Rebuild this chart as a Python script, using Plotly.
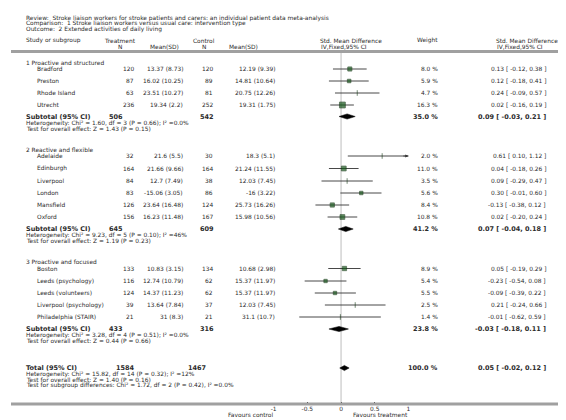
import plotly.graph_objects as go

W, H = 566, 420
FONT = "DejaVu Sans"
TEXT = "#2a2a2a"
FS = 5.9      # normal text size
FSB = 6.5     # bold text size

# ---------------- data ----------------
review = "Review:  Stroke liaison workers for stroke patients and carers: an individual patient data meta-analysis"
comparison = "Comparison:  1 Stroke liaison workers versus usual care: intervention type"
outcome = "Outcome:  2 Extended activities of daily living"

group_names = ["1 Proactive and structured", "2 Reactive and flexible", "3 Proactive and focused"]

g1_studies = ["Bradford", "Preston", "Rhode Island", "Utrecht"]
g1_t_n = [120, 87, 63, 236]
g1_t_mean = [13.37, 16.02, 23.51, 19.34]
g1_t_sd = [8.73, 10.25, 10.27, 2.2]
g1_c_n = [120, 89, 81, 252]
g1_c_mean = [12.19, 14.81, 20.75, 19.31]
g1_c_sd = [9.39, 10.64, 12.26, 1.75]
g1_weight = [8.0, 5.9, 4.7, 16.3]
g1_smd = [0.13, 0.12, 0.24, 0.02]
g1_lo = [-0.12, -0.18, -0.09, -0.16]
g1_hi = [0.38, 0.41, 0.57, 0.19]

g2_studies = ["Adelaide", "Edinburgh", "Liverpool", "London", "Mansfield", "Oxford"]
g2_t_n = [32, 164, 84, 83, 126, 156]
g2_t_mean = [21.6, 21.66, 12.7, -15.06, 23.64, 16.23]
g2_t_sd = [5.5, 9.66, 7.49, 3.05, 16.48, 11.48]
g2_c_n = [30, 164, 38, 86, 124, 167]
g2_c_mean = [18.3, 21.24, 12.03, -16, 25.73, 15.98]
g2_c_sd = [5.1, 11.55, 7.45, 3.22, 16.26, 10.56]
g2_weight = [2.0, 11.0, 3.5, 5.6, 8.4, 10.8]
g2_smd = [0.61, 0.04, 0.09, 0.30, -0.13, 0.02]
g2_lo = [0.10, -0.18, -0.29, -0.01, -0.38, -0.20]
g2_hi = [1.12, 0.26, 0.47, 0.60, 0.12, 0.24]

g3_studies = ["Boston", "Leeds (psychology)", "Leeds (volunteers)", "Liverpool (psychology)", "Philadelphia (STAIR)"]
g3_t_n = [133, 116, 124, 39, 21]
g3_t_mean = [10.83, 12.74, 14.37, 13.64, 31]
g3_t_sd = [3.15, 10.79, 11.23, 7.84, 8.3]
g3_c_n = [134, 62, 62, 37, 21]
g3_c_mean = [10.68, 15.37, 15.37, 12.03, 31.1]
g3_c_sd = [2.98, 11.97, 11.97, 7.45, 10.7]
g3_weight = [8.9, 5.4, 5.5, 2.5, 1.4]
g3_smd = [0.05, -0.23, -0.09, 0.21, -0.01]
g3_lo = [-0.19, -0.54, -0.39, -0.24, -0.62]
g3_hi = [0.29, 0.08, 0.22, 0.66, 0.59]

sub_t_n = [506, 645, 433]
sub_c_n = [542, 609, 316]
sub_weight = [35.0, 41.2, 23.8]
sub_smd = [0.09, 0.07, -0.03]
sub_lo = [-0.03, -0.04, -0.18]
sub_hi = [0.21, 0.18, 0.11]
sub_chi2 = ["1.60", "9.23", "3.28"]
sub_df = [3, 5, 4]
sub_p = ["0.66", "0.10", "0.51"]
sub_i2 = ["0.0%", "46%", "0.0%"]
sub_z = ["1.43", "1.19", "0.44"]
sub_zp = ["0.15", "0.23", "0.66"]

total_t_n = 1584
total_c_n = 1467
total_weight = 100.0
total_smd = 0.05
total_lo = -0.02
total_hi = 0.12
total_het = "Heterogeneity: Chi\u00b2 = 15.82, df = 14 (P = 0.32); I\u00b2 =12%"
total_test = "Test for overall effect: Z = 1.40 (P = 0.16)"
total_subgroup = "Test for subgroup differences: Chi\u00b2 = 1.72, df = 2 (P = 0.42), I\u00b2 =0.0%"

axis_ticks = [-1, -0.5, 0, 0.5, 1]
axis_ticktext = ["-1", "-0.5", "0", "0.5", "1"]
favours_left = "Favours control"
favours_right = "Favours treatment"

# ---------------- layout constants (pixel rows / columns) ----------------
X_LEFT = 13
X_STUDY = 24.5
X_TN_R = 126
X_TM_R = 176
X_CN_R = 206
X_CM_R = 268
X_W_R = 433
X_CI_R = 542
X_SUB_TN_R = 115
X_SUB_CN_R = 207
X_TOT_TN_R = 127
X_TOT_CN_R = 199

group_layout = [
    dict(header=54.5, rows=[61, 73, 85, 97], sub=108.5, het=115, test=121),
    dict(header=142, rows=[148, 160.5, 173, 185, 197, 209], sub=221, het=227.5, test=233),
    dict(header=254, rows=[260.5, 273, 285, 297, 309], sub=321, het=327.5, test=333),
]
Y_TOTAL, Y_TOT_HET, Y_TOT_TEST, Y_TOT_SUB = 360, 366.5, 372, 377.5
Y_AXIS = 396

groups = [
    (g1_studies, g1_t_n, g1_t_mean, g1_t_sd, g1_c_n, g1_c_mean, g1_c_sd, g1_weight, g1_smd, g1_lo, g1_hi),
    (g2_studies, g2_t_n, g2_t_mean, g2_t_sd, g2_c_n, g2_c_mean, g2_c_sd, g2_weight, g2_smd, g2_lo, g2_hi),
    (g3_studies, g3_t_n, g3_t_mean, g3_t_sd, g3_c_n, g3_c_mean, g3_c_sd, g3_weight, g3_smd, g3_lo, g3_hi),
]

ann = []


def txt(x, y, s, anchor="left", bold=False, size=None, color=TEXT):
    ann.append(dict(
        x=x / W, y=y, xref="paper", yref="y", text=("<b>%s</b>" % s) if bold else s,
        showarrow=False, xanchor=anchor, yanchor="middle",
        font=dict(family=FONT, size=size or (FSB if bold else FS), color=color),
    ))


def ms(m, s):
    return "%g (%g)" % (m, s)


def ci(e, lo, hi):
    return "%.2f [ %.2f, %.2f ]" % (e, lo, hi)


# title block
txt(X_LEFT, 10, review)
txt(X_LEFT, 15.5, comparison)
txt(X_LEFT, 21, outcome)

# headers
H1, H2 = 32.5, 38.5
txt(X_LEFT, H1, "Study or subgroup")
txt(92, H1, "Treatment")
txt(110, H2, "N", anchor="center")
txt(138, H2, "Mean(SD)")
txt(182, H1, "Control")
txt(195, H2, "N", anchor="center")
txt(218, H2, "Mean(SD)")
txt(310, H1, "Std. Mean Difference")
txt(311, H2, "IV,Fixed,95% CI")
txt(408, H1, "Weight")
txt(487, H1, "Std. Mean Difference")
txt(488, H2, "IV,Fixed,95% CI")

ci_x, ci_y = [], []
sq_x, sq_y, sq_size, sq_sym = [], [], [], []
dia_x, dia_y = [], []
DH = 2.6


def add_diamond(e, lo, hi, y):
    dia_x.extend([lo, e, hi, e, lo, None])
    dia_y.extend([y, y - DH, y, y + DH, y, None])


for gi, (g, lay) in enumerate(zip(groups, group_layout)):
    studies, tn, tm, tsd, cn, cm, csd, w, e, lo, hi = g
    txt(X_LEFT, lay["header"], group_names[gi])
    for i, y in enumerate(lay["rows"]):
        txt(X_STUDY, y, studies[i])
        txt(X_TN_R, y, str(tn[i]), anchor="right")
        txt(X_TM_R, y, ms(tm[i], tsd[i]), anchor="right")
        txt(X_CN_R, y, str(cn[i]), anchor="right")
        txt(X_CM_R, y, ms(cm[i], csd[i]), anchor="right")
        txt(X_W_R, y, "%.1f %%" % w[i], anchor="right")
        txt(X_CI_R, y, ci(e[i], lo[i], hi[i]), anchor="right")
        ci_x.extend([lo[i], hi[i], None])
        ci_y.extend([y, y, None])
        sq_x.append(e[i])
        sq_y.append(y)
        if w[i] < 5:
            sq_size.append(4)
            sq_sym.append("line-ns")
        else:
            sq_size.append(1.45 * w[i] ** 0.5)
            sq_sym.append("square")
        if hi[i] > axis_ticks[-1]:
            ann.append(dict(x=axis_ticks[-1], y=y, xref="x", yref="y", ax=axis_ticks[-1] - 0.1, ay=y,
                            axref="x", ayref="y", text="", showarrow=True, arrowhead=2,
                            arrowsize=0.8, arrowwidth=0.8, arrowcolor="#333"))
    ys = lay["sub"]
    txt(X_LEFT, ys, "Subtotal (95% CI)", bold=True)
    txt(X_SUB_TN_R, ys, str(sub_t_n[gi]), anchor="right", bold=True)
    txt(X_SUB_CN_R, ys, str(sub_c_n[gi]), anchor="right", bold=True)
    txt(X_W_R, ys, "%.1f %%" % sub_weight[gi], anchor="right", bold=True)
    txt(X_CI_R, ys, ci(sub_smd[gi], sub_lo[gi], sub_hi[gi]), anchor="right", bold=True)
    add_diamond(sub_smd[gi], sub_lo[gi], sub_hi[gi], ys)
    txt(X_LEFT, lay["het"], "Heterogeneity: Chi\u00b2 = %s, df = %d (P = %s); I\u00b2 =%s"
        % (sub_chi2[gi], sub_df[gi], sub_p[gi], sub_i2[gi]))
    txt(X_LEFT, lay["test"], "Test for overall effect: Z = %s (P = %s)" % (sub_z[gi], sub_zp[gi]))

# total
txt(X_LEFT, Y_TOTAL, "Total (95% CI)", bold=True)
txt(X_TOT_TN_R, Y_TOTAL, str(total_t_n), anchor="right", bold=True)
txt(X_TOT_CN_R, Y_TOTAL, str(total_c_n), anchor="right", bold=True)
txt(X_W_R, Y_TOTAL, "%.1f %%" % total_weight, anchor="right", bold=True)
txt(X_CI_R, Y_TOTAL, ci(total_smd, total_lo, total_hi), anchor="right", bold=True)
add_diamond(total_smd, total_lo, total_hi, Y_TOTAL)
txt(X_LEFT, Y_TOT_HET, total_het)
txt(X_LEFT, Y_TOT_TEST, total_test)
txt(X_LEFT, Y_TOT_SUB, total_subgroup)

# favours labels
txt(242, 407, favours_left, anchor="center")
txt(373, 407, favours_right, anchor="center")

fig = go.Figure()
fig.add_trace(go.Scatter(x=ci_x, y=ci_y, mode="lines", line=dict(color="#333", width=0.9),
                         hoverinfo="skip", showlegend=False))
fig.add_trace(go.Scatter(x=sq_x, y=sq_y, mode="markers",
                         marker=dict(size=sq_size, symbol=sq_sym, color="#15581a",
                                     line=dict(color="#0a300a", width=0.8)),
                         hoverinfo="skip", showlegend=False, cliponaxis=False))
fig.add_trace(go.Scatter(x=dia_x, y=dia_y, mode="lines", fill="toself", fillcolor="#000",
                         line=dict(color="#000", width=0.5), hoverinfo="skip", showlegend=False))

shapes = [
    dict(type="line", xref="x", yref="y", x0=0, x1=0, y0=44, y1=Y_AXIS - 1,
         line=dict(color="#bdbdbd", width=1), layer="below"),
    dict(type="line", xref="paper", yref="y", x0=0, x1=1, y0=43.5, y1=43.5,
         line=dict(color="#a0a0a0", width=3)),
    dict(type="line", xref="paper", yref="y", x0=0, x1=1, y0=Y_AXIS, y1=Y_AXIS,
         line=dict(color="#a0a0a0", width=3)),
]

fig.update_layout(
    width=W, height=H, margin=dict(l=0, r=0, t=0, b=0),
    paper_bgcolor="white", plot_bgcolor="rgba(0,0,0,0)",
    xaxis=dict(domain=[265 / W, 401 / W], range=[-1, 1], anchor="free", position=(H - Y_AXIS) / H,
               showgrid=False, zeroline=False, showline=False, ticks="inside", ticklen=2,
               tickcolor="#333", tickvals=axis_ticks, ticktext=axis_ticktext,
               tickfont=dict(family=FONT, size=FS, color=TEXT), fixedrange=True),
    yaxis=dict(domain=[0, 1], range=[H, 0], visible=False, fixedrange=True),
    annotations=ann, shapes=shapes, showlegend=False,
)

fig.write_html("out.html")
